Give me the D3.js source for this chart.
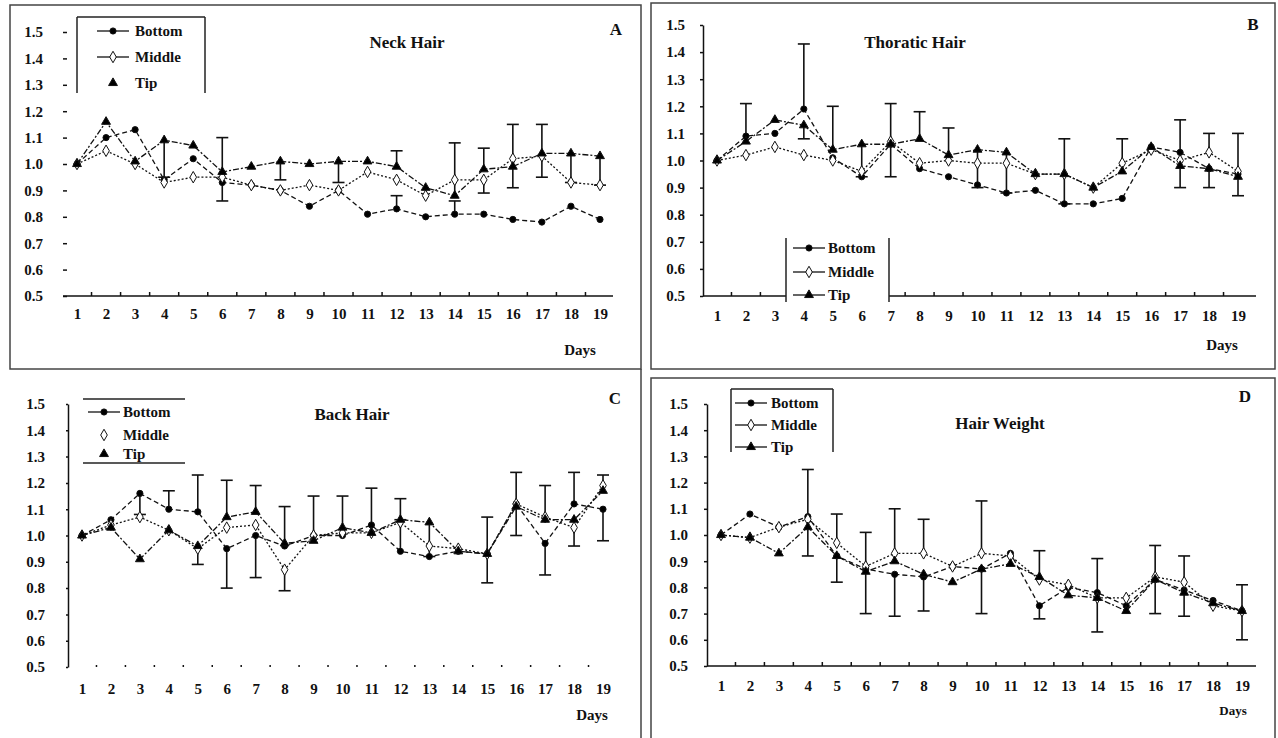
<!DOCTYPE html>
<html>
<head>
<meta charset="utf-8">
<script src="https://cdn.jsdelivr.net/npm/d3@7"></script>
<style>
  body { margin: 0; background: #fff; }
  svg text { font-family: "Liberation Serif", "Times New Roman", "DejaVu Serif", serif !important; font-weight: bold; fill: #111; }
</style>
</head>
<body>
<script>
// days on the x axis, shared by all four panels
var days = [1, 2, 3, 4, 5, 6, 7, 8, 9, 10, 11, 12, 13, 14, 15, 16, 17, 18, 19];
var yTicks = [0.5, 0.6, 0.7, 0.8, 0.9, 1.0, 1.1, 1.2, 1.3, 1.4, 1.5];
var seriesNames = ["Bottom", "Middle", "Tip"];

// A - neck hair (error values are signed: + bar up, - bar down, 0 none)
var neckBottom = [1.00, 1.10, 1.13, 0.94, 1.02, 0.93, 0.92, 0.90, 0.84, 0.90, 0.81, 0.83, 0.80, 0.81, 0.81, 0.79, 0.78, 0.84, 0.79];
var neckMiddle = [1.00, 1.05, 1.00, 0.93, 0.95, 0.95, 0.92, 0.90, 0.92, 0.90, 0.97, 0.94, 0.88, 0.94, 0.94, 1.02, 1.03, 0.93, 0.92];
var neckTip    = [1.00, 1.16, 1.01, 1.09, 1.07, 0.97, 0.99, 1.01, 1.00, 1.01, 1.01, 0.99, 0.91, 0.88, 0.98, 0.99, 1.04, 1.04, 1.03];
var neckBottomErr = [0, 0, 0, 0, 0, -0.07, 0, 0, 0, 0, 0, 0.05, 0, 0.05, 0, 0, 0, 0, 0];
var neckMiddleErr = [0, 0, 0, 0, 0, 0, 0, 0, 0, 0, 0, 0, 0, 0, -0.05, 0.13, -0.08, 0, 0];
var neckTipErr    = [0, 0, 0, -0.14, 0, 0.13, 0, -0.07, 0, -0.08, 0, 0.06, 0, 0.20, 0.08, -0.08, 0.11, -0.11, -0.11];

// B - thoratic hair
var thorBottom = [1.00, 1.09, 1.10, 1.19, 1.01, 0.94, 1.06, 0.97, 0.94, 0.91, 0.88, 0.89, 0.84, 0.84, 0.86, 1.05, 1.03, 0.97, 0.95];
var thorMiddle = [1.00, 1.02, 1.05, 1.02, 1.00, 0.96, 1.07, 0.99, 1.00, 0.99, 0.99, 0.95, 0.95, 0.90, 0.99, 1.04, 1.00, 1.03, 0.96];
var thorTip    = [1.00, 1.07, 1.15, 1.13, 1.04, 1.06, 1.06, 1.08, 1.02, 1.04, 1.03, 0.95, 0.95, 0.90, 0.96, 1.05, 0.98, 0.97, 0.94];
var thorBottomErr = [0, 0.12, 0, 0.24, 0, 0, -0.12, 0, 0, 0, 0, 0, 0, 0, 0, 0, 0.12, 0, -0.08];
var thorMiddleErr = [0, 0, 0, 0, 0, 0, 0, 0, 0, 0, 0, 0, 0.13, 0, 0, 0, 0, 0.07, 0];
var thorTipErr    = [0, 0, 0, -0.05, 0.16, -0.12, 0.15, 0.10, 0.10, -0.14, -0.15, 0, -0.11, 0, 0.12, 0, -0.08, -0.07, 0.16];

// C - back hair
var backBottom = [1.00, 1.06, 1.16, 1.10, 1.09, 0.95, 1.00, 0.96, 1.00, 1.00, 1.04, 0.94, 0.92, 0.94, 0.93, 1.12, 0.97, 1.12, 1.10];
var backMiddle = [1.00, 1.04, 1.07, 1.02, 0.95, 1.03, 1.04, 0.87, 1.00, 1.01, 1.01, 1.05, 0.96, 0.95, 0.93, 1.12, 1.07, 1.03, 1.19];
var backTip    = [1.00, 1.03, 0.91, 1.02, 0.96, 1.07, 1.09, 0.97, 0.98, 1.03, 1.01, 1.06, 1.05, 0.94, 0.93, 1.11, 1.06, 1.06, 1.17];
var backBottomErr = [0, 0, -0.08, 0.07, 0.14, -0.15, -0.16, 0, 0.15, 0.15, 0.14, 0.12, 0, 0, 0.14, 0.12, -0.12, 0.12, -0.12];
var backMiddleErr = [0, 0, 0, 0, -0.06, 0, 0, -0.08, 0, 0, 0, 0, 0, 0, -0.11, -0.12, 0.12, -0.07, 0.04];
var backTipErr    = [0, 0, 0, 0, 0, 0.14, 0.10, 0.14, 0, 0, 0, 0.08, -0.13, 0, 0, 0, 0, 0, 0];

// D - hair weight
var weightBottom = [1.00, 1.08, 1.03, 1.07, 0.92, 0.87, 0.85, 0.84, 0.88, 0.87, 0.93, 0.73, 0.80, 0.78, 0.73, 0.83, 0.79, 0.75, 0.71];
var weightMiddle = [1.00, 0.99, 1.03, 1.06, 0.97, 0.88, 0.93, 0.93, 0.88, 0.93, 0.92, 0.83, 0.81, 0.76, 0.76, 0.84, 0.82, 0.73, 0.71];
var weightTip    = [1.00, 0.99, 0.93, 1.03, 0.92, 0.86, 0.90, 0.85, 0.82, 0.87, 0.89, 0.84, 0.77, 0.76, 0.71, 0.83, 0.78, 0.74, 0.71];
var weightBottomErr = [0, 0, 0, 0.18, 0, 0, -0.16, -0.13, 0, 0, 0, -0.05, 0, 0.13, 0, 0, -0.10, 0, 0];
var weightMiddleErr = [0, 0, 0, 0, 0.11, 0.13, 0, 0.13, 0, 0.20, 0, 0, 0, 0, 0, 0.12, 0.10, 0, 0.10];
var weightTipErr    = [0, 0, 0, -0.11, -0.10, -0.16, 0.20, 0, 0, -0.17, 0, 0.10, 0, -0.13, 0, -0.13, 0, 0, -0.11];

var serif = "'Liberation Serif', 'Times New Roman', 'DejaVu Serif', serif";

var styles = [
  { marker: d3.symbolCircle, size: 30, fill: "#000", dash: "5,3" },
  { marker: d3.symbolDiamond, size: 38, fill: "#fff", dash: "2,2" },
  { marker: d3.symbolTriangle, size: 34, fill: "#000", dash: "6,2,2,2" }
];

var svg = d3.select("body").append("svg")
    .attr("width", 1278)
    .attr("height", 738);

var panels = [
  { values: [neckBottom, neckMiddle, neckTip], errs: [neckBottomErr, neckMiddleErr, neckTipErr],
    title: "Neck Hair", tx: 407, ty: 48, letter: "A", lx: 616, ly: 35,
    x1: 77, x19: 600, y05: 296, y15: 32, yAxisX: 67, yLine: false, yTick: 4, yPad: 20,
    xFrom: 63, xTo: 613, xLine: true, xPad: 12, days: [580, 355],
    box: [10, 5, 631, 364],
    legend: { x: 77, y: 17, w: 128, h: 76, top: true, bottom: false, rows: [31, 57, 83], lineX: 97, textX: 135, lines: [true, true, false] } },
  { values: [thorBottom, thorMiddle, thorTip], errs: [thorBottomErr, thorMiddleErr, thorTipErr],
    title: "Thoratic Hair", tx: 915, ty: 48, letter: "B", lx: 1253, ly: 30,
    x1: 717, x19: 1238, y05: 296, y15: 25, yAxisX: 703, yLine: true, yTick: 3, yPad: 15,
    xFrom: 703, xTo: 1256, xLine: true, xPad: 14, days: [1222, 350],
    box: [651, 3, 624, 366],
    legend: { x: 786, y: 238, w: 103, h: 64, top: false, bottom: false, rows: [248, 272, 295], lineX: 793, textX: 828, lines: [true, true, true] } },
  { values: [backBottom, backMiddle, backTip], errs: [backBottomErr, backMiddleErr, backTipErr],
    title: "Back Hair", tx: 352, ty: 420, letter: "C", lx: 615, ly: 404,
    x1: 82, x19: 603, y05: 667, y15: 404, yAxisX: 68, yLine: true, yTick: 2, yPad: 21,
    xFrom: 68, xTo: 620, xLine: false, xPad: 16, days: [592, 720],
    box: null,
    legend: { x: 83, y: 399, w: 102, h: 64, top: true, bottom: true, sides: false, rows: [412, 435, 454], lineX: 88, textX: 123, lines: [true, false, false] } },
  { values: [weightBottom, weightMiddle, weightTip], errs: [weightBottomErr, weightMiddleErr, weightTipErr],
    title: "Hair Weight", tx: 1000, ty: 429, letter: "D", lx: 1245, ly: 402,
    x1: 721, x19: 1242, y05: 666, y15: 404, yAxisX: 707, yLine: true, yTick: 3, yPad: 16,
    xFrom: 707, xTo: 1256, xLine: true, xPad: 14, days: [1233, 715], daysSize: 13,
    box: [651, 378, 624, 370],
    legend: { x: 731, y: 389, w: 102, h: 63, top: true, bottom: false, rows: [403, 425, 447], lineX: 735, textX: 771, lines: [true, true, true] } }
];

// panel frames (C only has the shared top edge and a right edge)
svg.append("line").attr("x1", 641).attr("x2", 641).attr("y1", 369).attr("y2", 738)
    .attr("stroke", "#444").attr("stroke-width", 1.5);

panels.forEach(drawPanel);

function drawPanel(p) {
  var g = svg.append("g");

  if (p.box) {
    g.append("rect")
        .attr("x", p.box[0]).attr("y", p.box[1])
        .attr("width", p.box[2]).attr("height", p.box[3])
        .attr("fill", "none").attr("stroke", "#444").attr("stroke-width", 1.5);
  }

  var x = d3.scaleLinear().domain([1, 19]).range([p.x1, p.x19]);
  var y = d3.scaleLinear().domain([0.5, 1.5]).range([p.y05, p.y15]);

  // y axis
  var ya = g.append("g")
      .attr("transform", "translate(" + p.yAxisX + ",0)")
      .call(d3.axisLeft(y).tickValues(yTicks).tickFormat(d3.format(".1f"))
        .tickSize(p.yTick).tickSizeOuter(0).tickPadding(p.yPad));
  ya.attr("font-family", null);
  ya.selectAll("text").style("font-size", "15px").style("font-family", serif);
  if (!p.yLine) ya.select(".domain").remove();
  ya.selectAll("line, path").attr("stroke", "#111").attr("stroke-width", 1.5);

  // x axis: labels at the days, small upward ticks between them
  var xa = g.append("g")
      .attr("transform", "translate(0," + p.y05 + ")")
      .call(d3.axisBottom(x).tickValues(days).tickSize(0).tickPadding(p.xPad));
  xa.attr("font-family", null);
  xa.select(".domain").remove();
  xa.selectAll("text").style("font-size", "15px").style("font-family", serif);

  var halfs = days.slice(0, 18).map(function (d) { return d + 0.5; });
  g.selectAll(".xtick").data(halfs).enter().append("line")
      .attr("x1", function (d) { return x(d); }).attr("x2", function (d) { return x(d); })
      .attr("y1", p.y05).attr("y2", p.y05 - (p.xLine ? 4 : 2))
      .attr("stroke", "#111").attr("stroke-width", 1.5);
  if (p.xLine) {
    g.append("line").attr("x1", p.xFrom).attr("x2", p.xTo)
        .attr("y1", p.y05).attr("y2", p.y05)
        .attr("stroke", "#111").attr("stroke-width", 1.5);
  }

  // series lines
  var line = d3.line()
      .x(function (d, i) { return x(days[i]); })
      .y(function (d) { return y(d); });

  p.values.forEach(function (vals, s) {
    g.append("path")
        .attr("d", line(vals))
        .attr("fill", "none")
        .attr("stroke", "#111")
        .attr("stroke-width", 1.3)
        .attr("stroke-dasharray", styles[s].dash);
  });

  // error bars
  p.errs.forEach(function (errs, s) {
    errs.forEach(function (e, i) {
      if (!e) return;
      var cx = x(days[i]);
      var y0 = y(p.values[s][i]), y1 = y(p.values[s][i] + e);
      g.append("line").attr("x1", cx).attr("x2", cx).attr("y1", y0).attr("y2", y1)
          .attr("stroke", "#111").attr("stroke-width", 1.6);
      g.append("line").attr("x1", cx - 6).attr("x2", cx + 6).attr("y1", y1).attr("y2", y1)
          .attr("stroke", "#111").attr("stroke-width", 1.6);
    });
  });

  // markers
  p.values.forEach(function (vals, s) {
    g.selectAll(".m" + s).data(vals).enter().append("path")
        .attr("transform", function (d, i) { return "translate(" + x(days[i]) + "," + y(d) + ")"; })
        .attr("d", d3.symbol().type(styles[s].marker).size(styles[s].size))
        .attr("fill", styles[s].fill)
        .attr("stroke", "#111")
        .attr("stroke-width", 1);
  });

  // legend
  var L = p.legend;
  var lg = g.append("g");
  lg.append("rect").attr("x", L.x).attr("y", L.y).attr("width", L.w).attr("height", L.h).attr("fill", "#fff");
  var edge = function (x1, y1, x2, y2) {
    lg.append("line").attr("x1", x1).attr("y1", y1).attr("x2", x2).attr("y2", y2)
        .attr("stroke", "#222").attr("stroke-width", 1.5);
  };
  if (L.sides !== false) { edge(L.x, L.y, L.x, L.y + L.h); edge(L.x + L.w, L.y, L.x + L.w, L.y + L.h); }
  if (L.top) edge(L.x, L.y, L.x + L.w, L.y);
  if (L.bottom) edge(L.x, L.y + L.h, L.x + L.w, L.y + L.h);
  seriesNames.forEach(function (name, s) {
    var ry = L.rows[s];
    if (L.lines[s]) {
      lg.append("line").attr("x1", L.lineX).attr("x2", L.lineX + 32).attr("y1", ry).attr("y2", ry)
          .attr("stroke", "#111").attr("stroke-width", 1.3);
    }
    lg.append("path")
        .attr("transform", "translate(" + (L.lineX + 16) + "," + ry + ")")
        .attr("d", d3.symbol().type(styles[s].marker).size(styles[s].size))
        .attr("fill", styles[s].fill).attr("stroke", "#111").attr("stroke-width", 1);
    lg.append("text").attr("x", L.textX).attr("y", ry).attr("dy", "0.35em")
        .style("font-family", serif).style("font-size", "15px").text(name);
  });

  // titles and labels
  g.append("text").attr("x", p.tx).attr("y", p.ty).attr("text-anchor", "middle")
      .style("font-family", serif).style("font-size", "17px").text(p.title);
  g.append("text").attr("x", p.lx).attr("y", p.ly).attr("text-anchor", "middle")
      .style("font-family", serif).style("font-size", "17px").text(p.letter);
  g.append("text").attr("x", p.days[0]).attr("y", p.days[1]).attr("text-anchor", "middle")
      .style("font-family", serif).style("font-size", (p.daysSize || 15) + "px").text("Days");
}
</script>
</body>
</html>
